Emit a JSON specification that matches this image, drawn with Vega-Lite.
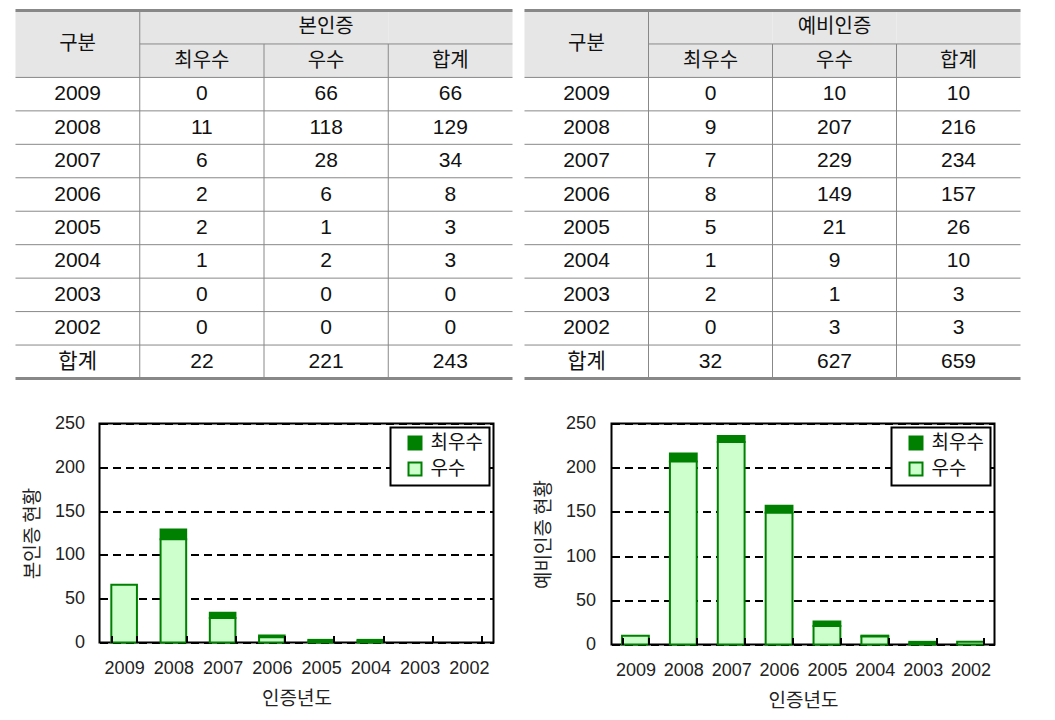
{
  "$schema": "https://vega.github.io/schema/vega-lite/v6.json",
  "padding": {"left": 13.5, "top": 8.5, "right": 0, "bottom": 0},
  "background": "white",
  "resolve": {"scale": {"color": "independent"}, "legend": {"color": "independent"}},
  "datasets": {
    "t1": [
      {"구분": "2009", "최우수": 0, "우수": 66, "합계": 66},
      {"구분": "2008", "최우수": 11, "우수": 118, "합계": 129},
      {"구분": "2007", "최우수": 6, "우수": 28, "합계": 34},
      {"구분": "2006", "최우수": 2, "우수": 6, "합계": 8},
      {"구분": "2005", "최우수": 2, "우수": 1, "합계": 3},
      {"구분": "2004", "최우수": 1, "우수": 2, "합계": 3},
      {"구분": "2003", "최우수": 0, "우수": 0, "합계": 0},
      {"구분": "2002", "최우수": 0, "우수": 0, "합계": 0},
      {"구분": "합계", "최우수": 22, "우수": 221, "합계": 243}
    ],
    "t2": [
      {"구분": "2009", "최우수": 0, "우수": 10, "합계": 10},
      {"구분": "2008", "최우수": 9, "우수": 207, "합계": 216},
      {"구분": "2007", "최우수": 7, "우수": 229, "합계": 234},
      {"구분": "2006", "최우수": 8, "우수": 149, "합계": 157},
      {"구분": "2005", "최우수": 5, "우수": 21, "합계": 26},
      {"구분": "2004", "최우수": 1, "우수": 9, "합계": 10},
      {"구분": "2003", "최우수": 2, "우수": 1, "합계": 3},
      {"구분": "2002", "최우수": 0, "우수": 3, "합계": 3},
      {"구분": "합계", "최우수": 32, "우수": 627, "합계": 659}
    ],
    "hdr": [
      {"r": "h1", "c": "구분"}, {"r": "h1", "c": "최우수"}, {"r": "h1", "c": "우수"}, {"r": "h1", "c": "합계"},
      {"r": "h2", "c": "구분"}, {"r": "h2", "c": "최우수"}, {"r": "h2", "c": "우수"}, {"r": "h2", "c": "합계"}
    ]
  },
  "config": {
    "view": {"stroke": null},
    "font": "Liberation Sans",
    "axis": {"labelFont": "Liberation Sans", "labelFontSize": 18, "labelColor": "#222", "titleFont": "Noto Sans CJK KR", "titleFontSize": 19, "titleFontWeight": "normal", "titleColor": "#222"},
    "legend": {"orient": "top-right", "offset": 4, "fillColor": "white", "strokeColor": "black", "strokeWidth": 2, "padding": 6, "symbolType": "square", "symbolSize": 169, "symbolStrokeColor": "#008000", "symbolStrokeWidth": 2, "labelFont": "Noto Sans CJK KR", "labelFontSize": 19, "labelColor": "#111", "labelOffset": 6, "rowPadding": 5, "symbolOffset": 9}
  },
  "columns": 2,
  "spacing": {"row": 33, "column": 8},
  "concat": [
    {
      "width": 413, "height": 368,
      "view": {"stroke": null},
      "layer": [
        {"data": {"name": "hdr"}, "mark": {"type": "rect", "fill": "#E6E6E6"},
         "encoding": {
           "x": {"field": "c", "type": "nominal", "scale": {"type": "band", "domain": ["구분","최우수","우수","합계"], "range": [-84, 413], "paddingInner": 0, "paddingOuter": 0}, "axis": null},
           "y": {"field": "r", "type": "nominal", "scale": {"type": "band", "domain": ["h1","h2","2009","2008","2007","2006","2005","2004","2003","2002","합계"], "paddingInner": 0, "paddingOuter": 0}, "axis": null}}},
        {"data": {"name": "t1"}, "mark": {"type": "rule", "color": "#888", "strokeWidth": 1},
         "encoding": {
           "y": {"field": "구분", "type": "nominal", "bandPosition": 0, "scale": {"type": "band", "domain": ["h1","h2","2009","2008","2007","2006","2005","2004","2003","2002","합계"], "paddingInner": 0, "paddingOuter": 0}, "axis": null},
           "x": {"datum": "구분", "type": "nominal", "bandPosition": 0, "scale": {"type": "band", "domain": ["구분","최우수","우수","합계"], "range": [-84, 413], "paddingInner": 0, "paddingOuter": 0}, "axis": null},
           "x2": {"value": "width"}}},
        {"data": {"values": [{}]}, "mark": {"type": "rule", "color": "#888", "strokeWidth": 1},
         "encoding": {
           "y": {"datum": "h2", "type": "nominal", "bandPosition": 0, "scale": {"type": "band", "domain": ["h1","h2","2009","2008","2007","2006","2005","2004","2003","2002","합계"], "paddingInner": 0, "paddingOuter": 0}, "axis": null},
           "x": {"datum": "최우수", "type": "nominal", "bandPosition": 0, "scale": {"type": "band", "domain": ["구분","최우수","우수","합계"], "range": [-84, 413], "paddingInner": 0, "paddingOuter": 0}, "axis": null},
           "x2": {"value": "width"}}},
        {"data": {"values": [{}]}, "mark": {"type": "rule", "color": "#888", "strokeWidth": 1},
         "encoding": {"x": {"datum": "최우수", "type": "nominal", "bandPosition": 0, "scale": {"type": "band", "domain": ["구분","최우수","우수","합계"], "range": [-84, 413], "paddingInner": 0, "paddingOuter": 0}, "axis": null}}},
        {"data": {"values": [{"c": "우수"}, {"c": "합계"}]}, "mark": {"type": "rule", "color": "#888", "strokeWidth": 1},
         "encoding": {
           "x": {"field": "c", "type": "nominal", "bandPosition": 0, "scale": {"type": "band", "domain": ["구분","최우수","우수","합계"], "range": [-84, 413], "paddingInner": 0, "paddingOuter": 0}, "axis": null},
           "y": {"datum": "h2", "type": "nominal", "bandPosition": 0, "scale": {"type": "band", "domain": ["h1","h2","2009","2008","2007","2006","2005","2004","2003","2002","합계"], "paddingInner": 0, "paddingOuter": 0}, "axis": null},
           "y2": {"value": "height"}}},
        {"data": {"values": [{}]}, "mark": {"type": "rule", "color": "#888", "strokeWidth": 3},
         "encoding": {
           "y": {"datum": "h1", "type": "nominal", "bandPosition": 0, "scale": {"type": "band", "domain": ["h1","h2","2009","2008","2007","2006","2005","2004","2003","2002","합계"], "paddingInner": 0, "paddingOuter": 0}, "axis": null},
           "x": {"datum": "구분", "type": "nominal", "bandPosition": 0, "scale": {"type": "band", "domain": ["구분","최우수","우수","합계"], "range": [-84, 413], "paddingInner": 0, "paddingOuter": 0}, "axis": null},
           "x2": {"value": "width"}}},
        {"data": {"values": [{}]}, "mark": {"type": "rule", "color": "#888", "strokeWidth": 3},
         "encoding": {
           "y": {"datum": "합계", "type": "nominal", "bandPosition": 1, "scale": {"type": "band", "domain": ["h1","h2","2009","2008","2007","2006","2005","2004","2003","2002","합계"], "paddingInner": 0, "paddingOuter": 0}, "axis": null},
           "x": {"datum": "구분", "type": "nominal", "bandPosition": 0, "scale": {"type": "band", "domain": ["구분","최우수","우수","합계"], "range": [-84, 413], "paddingInner": 0, "paddingOuter": 0}, "axis": null},
           "x2": {"value": "width"}}},
        {"data": {"name": "t1"}, "mark": {"type": "text", "font": "Liberation Sans, Noto Sans CJK KR", "fontSize": 21, "color": "#111"},
         "encoding": {
           "x": {"datum": "구분", "type": "nominal", "scale": {"type": "band", "domain": ["구분","최우수","우수","합계"], "range": [-84, 413], "paddingInner": 0, "paddingOuter": 0}, "axis": null},
           "y": {"field": "구분", "type": "nominal", "scale": {"type": "band", "domain": ["h1","h2","2009","2008","2007","2006","2005","2004","2003","2002","합계"], "paddingInner": 0, "paddingOuter": 0}, "axis": null},
           "text": {"field": "구분"}}},
        {"data": {"name": "t1"}, "transform": [{"fold": ["최우수", "우수", "합계"], "as": ["col", "v"]}],
         "mark": {"type": "text", "font": "Liberation Sans, Noto Sans CJK KR", "fontSize": 21, "color": "#111"},
         "encoding": {
           "x": {"field": "col", "type": "nominal", "scale": {"type": "band", "domain": ["구분","최우수","우수","합계"], "range": [-84, 413], "paddingInner": 0, "paddingOuter": 0}, "axis": null},
           "y": {"field": "구분", "type": "nominal", "scale": {"type": "band", "domain": ["h1","h2","2009","2008","2007","2006","2005","2004","2003","2002","합계"], "paddingInner": 0, "paddingOuter": 0}, "axis": null},
           "text": {"field": "v", "type": "quantitative"}}},
        {"data": {"values": [{"r": "h1", "c": "우수", "t": "본인증"}, {"r": "h2", "c": "최우수", "t": "최우수"}, {"r": "h2", "c": "우수", "t": "우수"}, {"r": "h2", "c": "합계", "t": "합계"}]},
         "mark": {"type": "text", "font": "Noto Sans CJK KR", "fontSize": 20, "color": "#111"},
         "encoding": {
           "x": {"field": "c", "type": "nominal", "scale": {"type": "band", "domain": ["구분","최우수","우수","합계"], "range": [-84, 413], "paddingInner": 0, "paddingOuter": 0}, "axis": null},
           "y": {"field": "r", "type": "nominal", "scale": {"type": "band", "domain": ["h1","h2","2009","2008","2007","2006","2005","2004","2003","2002","합계"], "paddingInner": 0, "paddingOuter": 0}, "axis": null},
           "text": {"field": "t"}}},
        {"data": {"values": [{"t": "구분"}]},
         "mark": {"type": "text", "font": "Noto Sans CJK KR", "fontSize": 20, "color": "#111"},
         "encoding": {
           "x": {"datum": "구분", "type": "nominal", "scale": {"type": "band", "domain": ["구분","최우수","우수","합계"], "range": [-84, 413], "paddingInner": 0, "paddingOuter": 0}, "axis": null},
           "y": {"datum": "h1", "type": "nominal", "bandPosition": 1, "scale": {"type": "band", "domain": ["h1","h2","2009","2008","2007","2006","2005","2004","2003","2002","합계"], "paddingInner": 0, "paddingOuter": 0}, "axis": null},
           "text": {"field": "t"}}}
      ]
    },
    {
      "width": 409, "height": 368,
      "view": {"stroke": null},
      "layer": [
        {"data": {"name": "hdr"}, "mark": {"type": "rect", "fill": "#E6E6E6"},
         "encoding": {
           "x": {"field": "c", "type": "nominal", "scale": {"type": "band", "domain": ["구분","최우수","우수","합계"], "range": [-87, 409], "paddingInner": 0, "paddingOuter": 0}, "axis": null},
           "y": {"field": "r", "type": "nominal", "scale": {"type": "band", "domain": ["h1","h2","2009","2008","2007","2006","2005","2004","2003","2002","합계"], "paddingInner": 0, "paddingOuter": 0}, "axis": null}}},
        {"data": {"name": "t2"}, "mark": {"type": "rule", "color": "#888", "strokeWidth": 1},
         "encoding": {
           "y": {"field": "구분", "type": "nominal", "bandPosition": 0, "scale": {"type": "band", "domain": ["h1","h2","2009","2008","2007","2006","2005","2004","2003","2002","합계"], "paddingInner": 0, "paddingOuter": 0}, "axis": null},
           "x": {"datum": "구분", "type": "nominal", "bandPosition": 0, "scale": {"type": "band", "domain": ["구분","최우수","우수","합계"], "range": [-87, 409], "paddingInner": 0, "paddingOuter": 0}, "axis": null},
           "x2": {"value": "width"}}},
        {"data": {"values": [{}]}, "mark": {"type": "rule", "color": "#888", "strokeWidth": 1},
         "encoding": {
           "y": {"datum": "h2", "type": "nominal", "bandPosition": 0, "scale": {"type": "band", "domain": ["h1","h2","2009","2008","2007","2006","2005","2004","2003","2002","합계"], "paddingInner": 0, "paddingOuter": 0}, "axis": null},
           "x": {"datum": "최우수", "type": "nominal", "bandPosition": 0, "scale": {"type": "band", "domain": ["구분","최우수","우수","합계"], "range": [-87, 409], "paddingInner": 0, "paddingOuter": 0}, "axis": null},
           "x2": {"value": "width"}}},
        {"data": {"values": [{}]}, "mark": {"type": "rule", "color": "#888", "strokeWidth": 1},
         "encoding": {"x": {"datum": "최우수", "type": "nominal", "bandPosition": 0, "scale": {"type": "band", "domain": ["구분","최우수","우수","합계"], "range": [-87, 409], "paddingInner": 0, "paddingOuter": 0}, "axis": null}}},
        {"data": {"values": [{"c": "우수"}, {"c": "합계"}]}, "mark": {"type": "rule", "color": "#888", "strokeWidth": 1},
         "encoding": {
           "x": {"field": "c", "type": "nominal", "bandPosition": 0, "scale": {"type": "band", "domain": ["구분","최우수","우수","합계"], "range": [-87, 409], "paddingInner": 0, "paddingOuter": 0}, "axis": null},
           "y": {"datum": "h2", "type": "nominal", "bandPosition": 0, "scale": {"type": "band", "domain": ["h1","h2","2009","2008","2007","2006","2005","2004","2003","2002","합계"], "paddingInner": 0, "paddingOuter": 0}, "axis": null},
           "y2": {"value": "height"}}},
        {"data": {"values": [{}]}, "mark": {"type": "rule", "color": "#888", "strokeWidth": 3},
         "encoding": {
           "y": {"datum": "h1", "type": "nominal", "bandPosition": 0, "scale": {"type": "band", "domain": ["h1","h2","2009","2008","2007","2006","2005","2004","2003","2002","합계"], "paddingInner": 0, "paddingOuter": 0}, "axis": null},
           "x": {"datum": "구분", "type": "nominal", "bandPosition": 0, "scale": {"type": "band", "domain": ["구분","최우수","우수","합계"], "range": [-87, 409], "paddingInner": 0, "paddingOuter": 0}, "axis": null},
           "x2": {"value": "width"}}},
        {"data": {"values": [{}]}, "mark": {"type": "rule", "color": "#888", "strokeWidth": 3},
         "encoding": {
           "y": {"datum": "합계", "type": "nominal", "bandPosition": 1, "scale": {"type": "band", "domain": ["h1","h2","2009","2008","2007","2006","2005","2004","2003","2002","합계"], "paddingInner": 0, "paddingOuter": 0}, "axis": null},
           "x": {"datum": "구분", "type": "nominal", "bandPosition": 0, "scale": {"type": "band", "domain": ["구분","최우수","우수","합계"], "range": [-87, 409], "paddingInner": 0, "paddingOuter": 0}, "axis": null},
           "x2": {"value": "width"}}},
        {"data": {"name": "t2"}, "mark": {"type": "text", "font": "Liberation Sans, Noto Sans CJK KR", "fontSize": 21, "color": "#111"},
         "encoding": {
           "x": {"datum": "구분", "type": "nominal", "scale": {"type": "band", "domain": ["구분","최우수","우수","합계"], "range": [-87, 409], "paddingInner": 0, "paddingOuter": 0}, "axis": null},
           "y": {"field": "구분", "type": "nominal", "scale": {"type": "band", "domain": ["h1","h2","2009","2008","2007","2006","2005","2004","2003","2002","합계"], "paddingInner": 0, "paddingOuter": 0}, "axis": null},
           "text": {"field": "구분"}}},
        {"data": {"name": "t2"}, "transform": [{"fold": ["최우수", "우수", "합계"], "as": ["col", "v"]}],
         "mark": {"type": "text", "font": "Liberation Sans, Noto Sans CJK KR", "fontSize": 21, "color": "#111"},
         "encoding": {
           "x": {"field": "col", "type": "nominal", "scale": {"type": "band", "domain": ["구분","최우수","우수","합계"], "range": [-87, 409], "paddingInner": 0, "paddingOuter": 0}, "axis": null},
           "y": {"field": "구분", "type": "nominal", "scale": {"type": "band", "domain": ["h1","h2","2009","2008","2007","2006","2005","2004","2003","2002","합계"], "paddingInner": 0, "paddingOuter": 0}, "axis": null},
           "text": {"field": "v", "type": "quantitative"}}},
        {"data": {"values": [{"r": "h1", "c": "우수", "t": "예비인증"}, {"r": "h2", "c": "최우수", "t": "최우수"}, {"r": "h2", "c": "우수", "t": "우수"}, {"r": "h2", "c": "합계", "t": "합계"}]},
         "mark": {"type": "text", "font": "Noto Sans CJK KR", "fontSize": 20, "color": "#111"},
         "encoding": {
           "x": {"field": "c", "type": "nominal", "scale": {"type": "band", "domain": ["구분","최우수","우수","합계"], "range": [-87, 409], "paddingInner": 0, "paddingOuter": 0}, "axis": null},
           "y": {"field": "r", "type": "nominal", "scale": {"type": "band", "domain": ["h1","h2","2009","2008","2007","2006","2005","2004","2003","2002","합계"], "paddingInner": 0, "paddingOuter": 0}, "axis": null},
           "text": {"field": "t"}}},
        {"data": {"values": [{"t": "구분"}]},
         "mark": {"type": "text", "font": "Noto Sans CJK KR", "fontSize": 20, "color": "#111"},
         "encoding": {
           "x": {"datum": "구분", "type": "nominal", "scale": {"type": "band", "domain": ["구분","최우수","우수","합계"], "range": [-87, 409], "paddingInner": 0, "paddingOuter": 0}, "axis": null},
           "y": {"datum": "h1", "type": "nominal", "bandPosition": 1, "scale": {"type": "band", "domain": ["h1","h2","2009","2008","2007","2006","2005","2004","2003","2002","합계"], "paddingInner": 0, "paddingOuter": 0}, "axis": null},
           "text": {"field": "t"}}}
      ]
    },
    {
      "width": 394, "height": 219,
      "view": {"stroke": "black", "strokeWidth": 2},
      "data": {"name": "t1"},
      "transform": [{"filter": "datum['구분'] != '합계'"}, {"fold": ["최우수", "우수"], "as": ["등급", "건수"]}, {"filter": "datum['건수'] > 0"}],
      "mark": {"type": "bar", "stroke": "#008000", "strokeWidth": 2},
      "encoding": {
        "x": {"field": "구분", "type": "nominal", "sort": ["2009","2008","2007","2006","2005","2004","2003","2002"],
              "scale": {"domain": ["2009","2008","2007","2006","2005","2004","2003","2002"], "paddingInner": 0.48, "paddingOuter": 0.24},
              "axis": {"title": "인증년도", "labelAngle": 0, "domain": false, "ticks": true, "tickBand": "extent", "tickSize": 7, "offset": -7, "tickWidth": 2, "tickColor": "#000", "zindex": 1, "labelPadding": 17, "titlePadding": 12}},
        "y": {"field": "건수", "type": "quantitative", "stack": "zero", "scale": {"domain": [0, 250], "nice": false},
              "axis": {"title": "본인증 현황", "values": [0, 50, 100, 150, 200, 250], "grid": true, "gridDash": [8, 5], "gridColor": "black", "gridWidth": 2, "domain": false, "ticks": false, "labelPadding": 15, "titlePadding": 12}},
        "color": {"field": "등급", "type": "nominal", "scale": {"domain": ["최우수", "우수"], "range": ["#008000", "#CCFFCC"]}, "legend": {"title": null}},
        "order": {"field": "등급", "sort": "ascending"}
      }
    },
    {
      "width": 383, "height": 221,
      "view": {"stroke": "black", "strokeWidth": 2},
      "data": {"name": "t2"},
      "transform": [{"filter": "datum['구분'] != '합계'"}, {"fold": ["최우수", "우수"], "as": ["등급", "건수"]}, {"filter": "datum['건수'] > 0"}],
      "mark": {"type": "bar", "stroke": "#008000", "strokeWidth": 2},
      "encoding": {
        "x": {"field": "구분", "type": "nominal", "sort": ["2009","2008","2007","2006","2005","2004","2003","2002"],
              "scale": {"domain": ["2009","2008","2007","2006","2005","2004","2003","2002"], "paddingInner": 0.44, "paddingOuter": 0.22},
              "axis": {"title": "인증년도", "labelAngle": 0, "domain": false, "ticks": true, "tickBand": "extent", "tickSize": 7, "offset": -7, "tickWidth": 2, "tickColor": "#000", "zindex": 1, "labelPadding": 17, "titlePadding": 12}},
        "y": {"field": "건수", "type": "quantitative", "stack": "zero", "scale": {"domain": [0, 250], "nice": false},
              "axis": {"title": "예비인증 현황", "values": [0, 50, 100, 150, 200, 250], "grid": true, "gridDash": [8, 5], "gridColor": "black", "gridWidth": 2, "domain": false, "ticks": false, "labelPadding": 16, "titlePadding": 12}},
        "color": {"field": "등급", "type": "nominal", "scale": {"domain": ["최우수", "우수"], "range": ["#008000", "#CCFFCC"]}, "legend": {"title": null}},
        "order": {"field": "등급", "sort": "ascending"}
      }
    }
  ]
}
